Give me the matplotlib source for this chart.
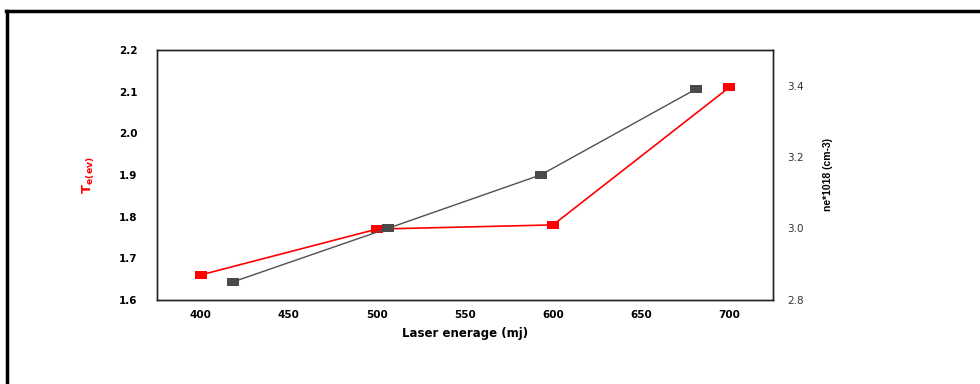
import matplotlib
matplotlib.use("Agg")
import matplotlib.pyplot as plt
from matplotlib.lines import Line2D

plt.rcParams['font.family'] = ['DejaVu Sans']

energy_te = [400, 500, 600, 700]
te_values = [1.66, 1.77, 1.78, 2.11]
energy_ne = [418, 506, 593, 681]
ne_values = [2.85, 3.00, 3.15, 3.39]

x_ticks = [400, 450, 500, 550, 600, 650, 700]
left_ticks = [1.6, 1.7, 1.8, 1.9, 2.0, 2.1, 2.2]
right_ticks = [2.8, 3.0, 3.2, 3.4]

rect = [(-1, -0.6), (1, -0.6), (1, 0.6), (-1, 0.6), (-1, -0.6)]

fig = plt.figure(figsize=(9.8, 3.84), dpi=100)
ax = fig.add_axes([0.160, 0.219, 0.629, 0.651])
ax2 = ax.twinx()

ax.plot(energy_te, te_values, color='#ff0000', lw=1.2, marker=rect,
        markersize=9, markeredgewidth=0, markerfacecolor='#ff0000', zorder=3)
ax2.plot(energy_ne, ne_values, color='#505050', lw=1.0, marker=rect,
         markersize=9, markeredgewidth=0, markerfacecolor='#4a4a4a', zorder=3)

ax.set_xlim(375, 725)
ax.set_ylim(1.6, 2.2)
ax2.set_ylim(2.8, 3.5)

ax.set_xticks(x_ticks)
ax.set_xticklabels([str(v) for v in x_ticks], fontsize=7.5, fontweight='bold')
ax.set_yticks(left_ticks)
ax.set_yticklabels([f"{v:.1f}" for v in left_ticks], fontsize=7.5, fontweight='bold')
ax2.set_yticks(right_ticks)
ax2.set_yticklabels([f"{v:.1f}" for v in right_ticks], fontsize=7.5, color='#333333')

ax.tick_params(axis='y', length=0, pad=14)
ax.tick_params(axis='x', length=0, pad=7)
ax2.tick_params(axis='y', length=0, pad=10)

for a in (ax, ax2):
    for s in a.spines.values():
        s.set_linewidth(1.0)
        s.set_color('#222222')

ax.set_xlabel('Laser enerage (mj)', fontsize=8.5, fontweight='bold', labelpad=5)
fig.text(0.091, 0.545, r'T$_\mathbf{e}$$_\mathbf{(ev)}$', color='#ff0000', fontsize=9.5,
         fontweight='bold', rotation=90, ha='center', va='center')
fig.text(0.845, 0.545, 'ne*1018 (cm-3)', color='black', fontsize=7.5, fontweight='bold',
         family='Liberation Sans', rotation=90, ha='center', va='center')

# outer frame (top and left thick lines)
fig.add_artist(Line2D([0.006, 1.0], [0.971, 0.971], transform=fig.transFigure,
                      color='black', lw=2.5))
fig.add_artist(Line2D([0.007, 0.007], [0.0, 0.971], transform=fig.transFigure,
                      color='black', lw=2.5))

fig.savefig('out.png', dpi=100)
